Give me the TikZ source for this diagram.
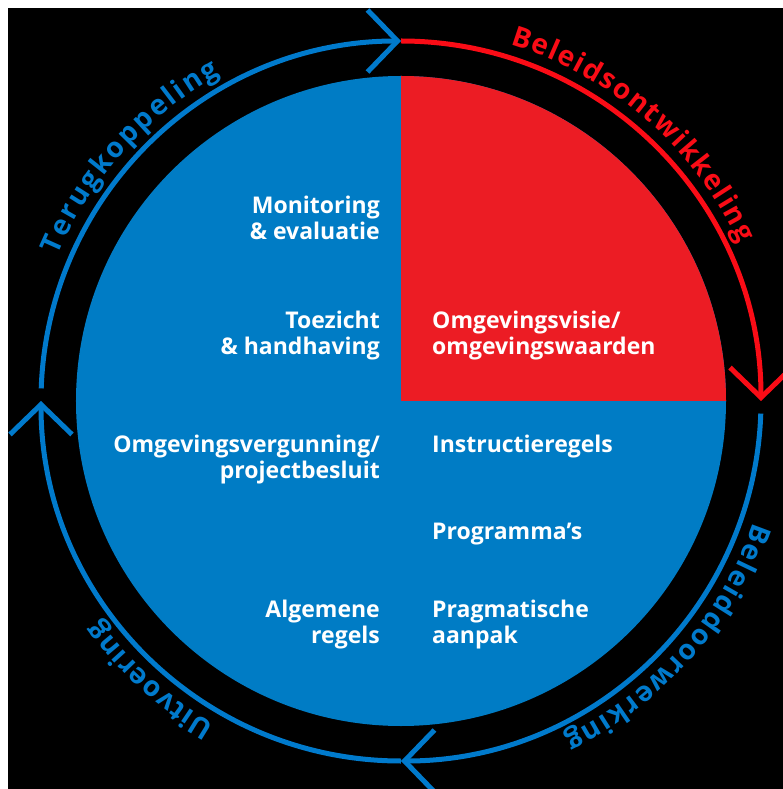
\documentclass[tikz,border=0pt]{standalone}
\usepackage{fontspec}
\setmainfont{Open Sans}
\usetikzlibrary{arrows.meta,decorations.text}
\definecolor{discblue}{RGB}{0,124,197}
\definecolor{quadred}{RGB}{236,28,36}
\definecolor{ringblue}{RGB}{0,122,204}
\definecolor{ringred}{RGB}{250,12,22}
\newcommand{\arcfont}{\fontsize{28}{28}\selectfont\bfseries}
\begin{document}
\begin{tikzpicture}[x=1pt,y=1pt,
  ringline/.style={line width=5pt, -{Straight Barb[length=30pt,width=62pt,line width=5pt]}},
  innertext/.style={text=white, font=\fontsize{23}{26}\selectfont\bfseries, inner sep=0pt},
  lft/.style={innertext, anchor=east, align=right},
  rgt/.style={innertext, anchor=west, align=left},
  arclabel/.style={decorate, decoration={text along path, text align=fit to path, text color=#1}},
]
\useasboundingbox (-401,-388) rectangle (382,401);
\fill[white] (-401,-388) rectangle (382,401);
\fill[black] (-393,-388) rectangle (382,393);
\coordinate (c) at (0,0);
\fill[discblue] (c) circle[radius=325];
\fill[quadred] (c) -- (325,0) arc[start angle=0,end angle=90,radius=325] -- cycle;
% ring
\draw[ringline, ringred] (90:360) arc[start angle=90, end angle=0, radius=360];
\draw[ringline, ringblue] (-2:360) arc[start angle=-2, end angle=-90, radius=360];
\draw[ringline, ringblue] (-90:360) arc[start angle=-90, end angle=-180, radius=360];
\draw[ringline, ringblue] (178:360) arc[start angle=178, end angle=90, radius=360];
% arc labels
\path[arclabel=ringblue, decoration={text={|\arcfont|Terugkoppeling}}]
  (157:373) arc[start angle=157, end angle=119, radius=373];
\path[arclabel=ringred, decoration={text={|\arcfont|Beleidsontwikkeling}}]
  (73:373) arc[start angle=73, end angle=25, radius=373];
\path[arclabel=ringblue, decoration={text={|\arcfont|Beleiddoorwerking}}]
  (-19:373) arc[start angle=-19, end angle=-64, radius=373];
\path[arclabel=ringblue, decoration={text={|\arcfont|Uitvoering}}]
  (240:373) arc[start angle=240, end angle=216, radius=373];
% inner texts
\node[lft] (mon) at (-21,183) {Monitoring\\\& evaluatie};
\node[lft] (toe) at (-21,65) {Toezicht\\\& handhaving};
\node[lft] (ovg) at (-21,-59) {Omgevingsvergunning/\\projectbesluit};
\node[lft] (alg) at (-21,-224) {Algemene\\regels};
\node[rgt] (ovv) at (31,65) {Omgevingsvisie/\\omgevingswaarden};
\node[rgt] (ins) at (31,-46) {Instructieregels};
\node[rgt] (prg) at (31,-133) {Programma’s};
\node[rgt] (prag) at (31,-224) {Pragmatische\\aanpak};
\end{tikzpicture}
\end{document}
